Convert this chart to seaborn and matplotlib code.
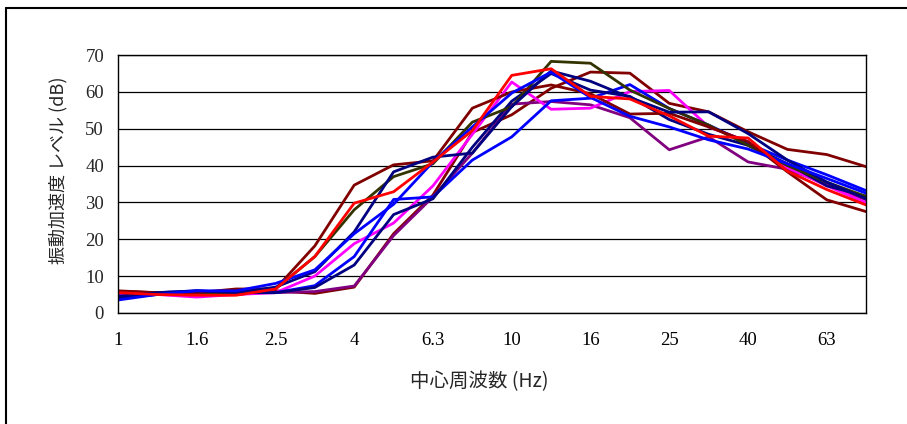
import pandas as pd
import matplotlib.pyplot as plt
import seaborn as sns
from matplotlib.lines import Line2D

# ===== data (1/3 octave band, dB) =====
freqs = ["1", "1.25", "1.6", "2", "2.5", "3.15", "4", "5", "6.3", "8",
         "10", "12.5", "16", "20", "25", "31.5", "40", "50", "63", "80"]
tick_labels = ["1", "1.6", "2.5", "4", "6.3", "10", "16", "25", "40", "63"]

maroon_a = [6.0, 5.5, 5.5, 6.5, 6.5, 18.2, 34.7, 40.2, 41.3, 55.6,
            60.0, 61.9, 59.5, 54.0, 54.2, 50.5, 46.5, 38.3, 30.7, 27.5]
maroon_b = [5.8, 5.5, 5.5, 5.0, 6.0, 5.3, 7.0, 21.5, 32.0, 49.0,
            53.8, 61.0, 65.4, 65.1, 56.9, 54.6, 49.2, 44.4, 43.0, 39.7]
red = [5.5, 5.0, 4.8, 4.8, 6.5, 15.3, 29.8, 32.9, 41.0, 49.5,
       64.5, 66.3, 58.8, 58.1, 53.5, 48.0, 47.5, 38.5, 33.5, 29.3]
navy_1 = [4.5, 5.5, 6.0, 5.5, 7.0, 11.2, 22.0, 38.3, 42.3, 43.4,
          56.0, 65.7, 62.9, 58.5, 54.5, 54.6, 48.7, 41.5, 35.5, 31.0]
navy_2 = [4.0, 5.0, 5.5, 5.5, 5.5, 6.9, 13.0, 26.7, 31.0, 45.0,
          57.5, 65.0, 60.5, 58.8, 52.5, 48.5, 45.5, 40.5, 34.5, 31.7]
blue_1 = [3.5, 5.0, 6.0, 6.0, 8.0, 11.7, 21.5, 29.5, 41.0, 50.5,
          59.7, 65.4, 58.5, 53.4, 50.5, 47.0, 44.5, 40.5, 36.5, 32.5]
blue_2 = [4.5, 5.5, 6.0, 5.5, 5.5, 7.4, 15.3, 30.8, 31.5, 41.5,
          47.8, 57.6, 58.3, 62.0, 55.5, 51.0, 46.0, 41.5, 37.5, 33.2]
magenta = [5.0, 5.0, 4.3, 5.0, 5.5, 10.0, 18.8, 24.4, 34.5, 48.5,
           62.7, 55.3, 55.6, 60.1, 60.4, 50.5, 46.5, 39.5, 34.5, 29.9]
purple = [5.8, 5.5, 5.5, 5.5, 5.5, 5.8, 7.3, 21.0, 31.5, 43.4,
          56.7, 57.4, 56.5, 53.0, 44.3, 47.8, 41.0, 39.0, 35.0, 30.7]
olive = [5.5, 5.5, 5.5, 5.5, 6.5, 15.3, 28.0, 37.0, 40.5, 51.8,
         56.0, 68.3, 67.8, 60.5, 55.5, 51.0, 45.5, 40.0, 35.5, 31.6]

series = {
    "maroon_b": maroon_b, "purple": purple, "magenta": magenta,
    "blue_2": blue_2, "navy_2": navy_2, "olive": olive, "maroon_a": maroon_a,
    "navy_1": navy_1, "blue_1": blue_1, "red": red,
}
palette = {
    "maroon_a": "#800000", "maroon_b": "#800000", "red": "#FF0000",
    "navy_1": "#000080", "navy_2": "#000080", "blue_1": "#0000FF",
    "blue_2": "#0000FF", "magenta": "#FF00FF", "purple": "#800080",
    "olive": "#333300",
}

rows = []
for name, vals in series.items():
    for i, v in enumerate(vals):
        rows.append({"band": i, "level": v, "run": name})
df = pd.DataFrame(rows)

# ===== plot =====
sns.set_style("white")
plt.rcParams["font.family"] = ["Noto Sans CJK JP", "DejaVu Sans"]

fig = plt.figure(figsize=(9.07, 4.24), dpi=100)
ax = fig.add_axes([0.130, 0.262, 0.825, 0.608])

sns.lineplot(data=df, x="band", y="level", hue="run", palette=palette,
             hue_order=list(series.keys()), linewidth=2.0, sort=False,
             legend=False, ax=ax)

ax.set_xlim(0, len(freqs) - 1)
ax.set_ylim(0, 70)
ax.set_yticks(range(0, 71, 10))
ax.set_xticks(range(0, len(freqs) - 1, 2))
ax.set_xticklabels(tick_labels, family="Liberation Serif", fontsize=13.5)
ax.set_yticklabels([str(v) for v in range(0, 71, 10)],
                   family="Liberation Serif", fontsize=13.5)
ax.yaxis.grid(True, color="black", linewidth=0.9)
ax.set_axisbelow(True)
ax.tick_params(axis="x", direction="in", length=5, width=0.8, pad=14,
               colors="black")
ax.tick_params(axis="y", length=0, pad=10)
for s in ax.spines.values():
    s.set_color("black")
    s.set_linewidth(1.0)

ax.set_xlabel("中心周波数 (Hz)", fontsize=14)
ax.xaxis.set_label_coords(0.483, -0.225)
ax.set_ylabel("振動加速度 レベル (dB)", fontsize=13)
ax.yaxis.set_label_coords(-0.067, 0.554)

# outer frame (top and left edges visible)
fig.add_artist(Line2D([6 / 907, 6 / 907], [0, 1 - 8 / 424],
                      transform=fig.transFigure, color="black", linewidth=1.5))
fig.add_artist(Line2D([6 / 907, 1], [1 - 8 / 424, 1 - 8 / 424],
                      transform=fig.transFigure, color="black", linewidth=1.5))

fig.savefig("out.png", dpi=100)
plt.close(fig)
